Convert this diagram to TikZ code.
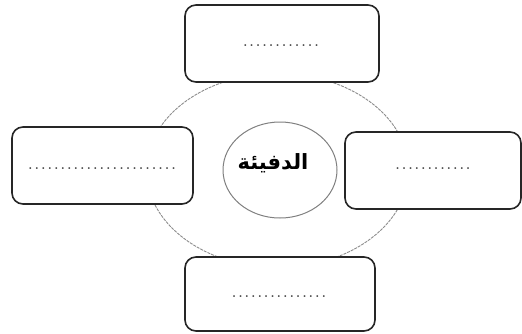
\documentclass[tikz,border=0pt]{standalone}
\usepackage{fontspec}
\newfontfamily\arabicfont[Script=Arabic]{DejaVu Sans}
\TeXXeTstate=1
\usetikzlibrary{shapes.geometric}
\newcommand\dotrow[1]{\hbox to #1{\xleaders\hbox to 6.4pt{\hss.\hss}\hfill}}
\begin{document}
\begin{tikzpicture}[x=1pt,y=-1pt,
  answerbox/.style={draw=black!85, line width=1.6pt, rounded corners=11pt, fill=white},
  dotsnode/.style={inner sep=0pt, text=black!75, font=\fontsize{13}{13}\bfseries\selectfont},
  bigring/.style={draw=black!45, line width=0.9pt, dash pattern=on 3pt off 1pt},
  corering/.style={draw=black!50, line width=1pt, fill=white}]
\useasboundingbox (0,0) rectangle (522,333);
% big ellipse behind
\node[bigring, ellipse, minimum width=262pt, minimum height=194pt, inner sep=0pt] (ring) at (277.5,170.5) {};
% boxes
\draw[answerbox] (185,5) rectangle (379,82);
\coordinate (topc) at (282,43.5);
\draw[answerbox] (12,127) rectangle (193,204);
\coordinate (leftc) at (102.5,165.5);
\draw[answerbox] (345,132) rectangle (521,209);
\coordinate (rightc) at (433,170.5);
\draw[answerbox] (185,257) rectangle (375,331);
\coordinate (botc) at (280,294);
% dots
\node[dotsnode] (topdots) at (281,46) {\dotrow{78pt}};
\node[dotsnode] (leftdots) at (102,169) {\dotrow{150pt}};
\node[dotsnode] (rightdots) at (433,169) {\dotrow{77pt}};
\node[dotsnode] (botdots) at (279,297) {\dotrow{96pt}};
% centre
\node[corering, ellipse, minimum width=114pt, minimum height=96pt, inner sep=0pt] (core) at (280,170) {};
\node[font=\arabicfont\bfseries\fontsize{21}{21}\selectfont] (title) at (273,163) {\beginR الدفيئة\endR};
\end{tikzpicture}
\end{document}
